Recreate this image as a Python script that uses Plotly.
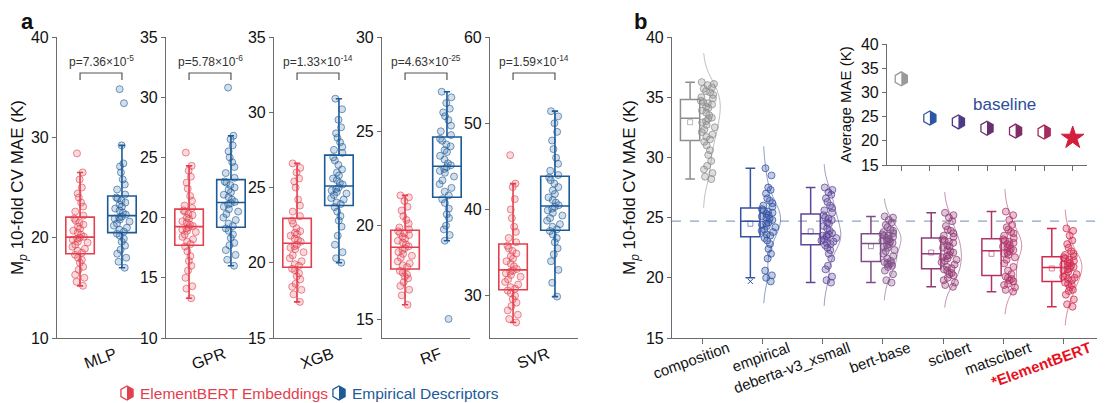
import numpy as np
import plotly.graph_objects as go

W, H = 1110, 403
OFF = 8  # page body margin offset


def fx(px):
    return (px - OFF) / W


def fy(py):
    return 1 - (py - OFF) / H


# ---------------- data: panel a ----------------
models = ["MLP", "GPR", "XGB", "RF", "SVR"]
p_labels = ["p=7.36×10<sup>-5</sup>", "p=5.78×10<sup>-6</sup>", "p=1.33×10<sup>-14</sup>",
            "p=4.63×10<sup>-25</sup>", "p=1.59×10<sup>-14</sup>"]

mlp_elementbert = [15.2, 15.6, 16.0, 16.3, 16.8, 17.1, 17.5, 17.8, 18.0, 18.3,
                   18.5, 18.7, 18.9, 19.1, 19.3, 19.5, 19.6, 19.8, 19.9, 20.0,
                   20.1, 20.3, 20.5, 20.7, 20.9, 21.1, 21.3, 21.5, 21.7, 21.9,
                   22.2, 22.6, 23.1, 23.5, 24.0, 24.4, 25.0, 25.8, 26.5, 28.4]
mlp_empirical = [17.0, 17.6, 18.0, 18.4, 18.8, 19.2, 19.6, 19.9, 20.2, 20.4,
                 20.6, 20.8, 21.0, 21.2, 21.4, 21.6, 21.8, 21.9, 22.0, 22.1,
                 22.3, 22.5, 22.7, 22.9, 23.1, 23.3, 23.5, 23.7, 23.9, 24.0,
                 24.3, 24.8, 25.3, 25.8, 26.5, 27.1, 27.4, 29.2, 33.4, 34.8]
gpr_elementbert = [13.3, 14.1, 14.3, 15.0, 15.6, 16.0, 16.4, 16.8, 17.2, 17.6,
                   17.8, 18.0, 18.2, 18.4, 18.6, 18.8, 18.9, 19.0, 19.1, 19.2,
                   19.3, 19.4, 19.6, 19.7, 19.9, 20.0, 20.2, 20.3, 20.5, 20.6,
                   20.8, 21.0, 21.4, 21.8, 22.4, 22.9, 23.4, 23.9, 24.3, 25.4]
gpr_empirical = [16.0, 16.5, 16.9, 17.3, 17.7, 17.9, 18.3, 18.6, 18.9, 19.1,
                 19.3, 19.5, 19.8, 20.0, 20.3, 20.5, 20.7, 20.9, 21.1, 21.2,
                 21.3, 21.5, 21.7, 21.9, 22.1, 22.3, 22.5, 22.7, 22.9, 23.0,
                 23.3, 23.7, 24.2, 24.6, 25.0, 25.5, 26.0, 26.5, 26.8, 30.8]
xgb_elementbert = [17.4, 17.9, 18.2, 18.4, 18.6, 18.9, 19.1, 19.3, 19.5, 19.6,
                   19.8, 19.9, 20.1, 20.3, 20.5, 20.7, 20.9, 21.0, 21.1, 21.2,
                   21.4, 21.5, 21.6, 21.8, 21.9, 22.0, 22.1, 22.3, 22.6, 22.8,
                   23.1, 23.4, 23.8, 24.2, 25.0, 25.4, 25.6, 26.0, 26.3, 26.6]
xgb_empirical = [20.0, 20.3, 20.7, 21.2, 21.8, 22.4, 22.8, 23.1, 23.4, 23.7,
                 23.9, 24.0, 24.2, 24.3, 24.5, 24.6, 24.7, 24.8, 24.9, 25.0,
                 25.2, 25.3, 25.5, 25.6, 25.8, 26.0, 26.2, 26.5, 26.8, 27.0,
                 27.3, 27.5, 27.7, 28.0, 28.3, 28.6, 29.0, 29.5, 30.2, 30.9]
rf_elementbert = [15.8, 16.3, 16.6, 16.8, 17.0, 17.2, 17.3, 17.4, 17.5, 17.6,
                  17.8, 17.9, 18.0, 18.1, 18.3, 18.4, 18.5, 18.6, 18.7, 18.8,
                  18.9, 19.0, 19.1, 19.2, 19.3, 19.4, 19.5, 19.6, 19.6, 19.7,
                  19.8, 19.9, 20.1, 20.3, 20.5, 20.8, 21.0, 21.3, 21.5, 21.6]
rf_empirical = [15.05, 19.2, 19.5, 19.8, 20.0, 20.4, 20.6, 20.9, 21.2, 21.4,
                21.6, 21.8, 22.0, 22.2, 22.4, 22.6, 22.8, 22.9, 23.0, 23.1,
                23.2, 23.3, 23.5, 23.7, 23.9, 24.0, 24.2, 24.3, 24.5, 24.6,
                24.8, 25.0, 25.3, 25.6, 25.8, 26.0, 26.2, 26.5, 26.8, 27.1]
svr_elementbert = [26.9, 27.3, 27.8, 28.3, 28.8, 29.2, 29.6, 30.0, 30.3, 30.6,
                   30.8, 31.0, 31.3, 31.6, 31.9, 32.2, 32.4, 32.6, 32.8, 32.9,
                   33.1, 33.4, 33.7, 34.0, 34.3, 34.6, 34.9, 35.2, 35.5, 35.8,
                   36.2, 36.7, 37.4, 38.0, 39.0, 40.0, 41.2, 42.6, 43.0, 46.3]
svr_empirical = [29.9, 31.5, 33.0, 34.0, 34.8, 35.5, 36.2, 36.7, 37.1, 37.5,
                 37.7, 38.0, 38.3, 38.7, 39.0, 39.3, 39.6, 39.9, 40.1, 40.3,
                 40.5, 40.8, 41.1, 41.4, 41.8, 42.2, 42.6, 43.0, 43.4, 43.7,
                 44.0, 44.5, 45.3, 46.0, 47.0, 48.0, 49.0, 50.0, 50.8, 51.4]

a_elementbert = [mlp_elementbert, gpr_elementbert, xgb_elementbert, rf_elementbert, svr_elementbert]
a_empirical = [mlp_empirical, gpr_empirical, xgb_empirical, rf_empirical, svr_empirical]
a_ranges = [[10, 40], [10, 35], [15, 35], [14.04, 30], [25.1, 60]]
a_ticks = [[10, 20, 30, 40], [10, 15, 20, 25, 30, 35], [15, 20, 25, 30, 35], [15, 20, 25, 30], [30, 40, 50, 60]]

# ---------------- data: panel b ----------------
methods = ["composition", "empirical", "deberta-v3_xsmall", "bert-base", "scibert", "matscibert", "*ElementBERT"]
composition = [28.2, 28.4, 28.7, 29.0, 29.3, 29.7, 30.2, 30.6, 31.0, 31.3,
               31.5, 31.7, 31.9, 32.1, 32.3, 32.5, 32.7, 32.9, 33.0, 33.2,
               33.3, 33.5, 33.7, 33.9, 34.1, 34.2, 34.4, 34.5, 34.6, 34.7,
               34.9, 35.0, 35.2, 35.4, 35.5, 35.7, 35.8, 36.0, 36.1, 36.25]
empirical = [19.7, 20.0, 20.2, 20.6, 21.6, 22.0, 22.4, 22.8, 23.1, 23.3,
             23.5, 23.6, 23.8, 23.9, 24.0, 24.2, 24.3, 24.4, 24.5, 24.6,
             24.8, 24.9, 25.0, 25.1, 25.2, 25.3, 25.4, 25.5, 25.6, 25.7,
             25.9, 26.0, 26.2, 26.4, 26.6, 27.0, 27.3, 27.5, 28.5, 29.1]
deberta = [19.6, 19.8, 20.1, 20.7, 21.0, 21.6, 22.0, 22.3, 22.5, 22.7,
           22.8, 22.9, 23.0, 23.1, 23.2, 23.3, 23.4, 23.5, 23.5, 23.6,
           23.7, 23.9, 24.1, 24.3, 24.5, 24.6, 24.8, 24.9, 25.0, 25.2,
           25.4, 25.6, 25.8, 26.0, 26.3, 26.6, 26.9, 27.1, 27.3, 27.5]
bert_base = [19.6, 19.8, 20.3, 20.6, 20.9, 21.0, 21.1, 21.2, 21.2, 21.3,
             21.4, 21.6, 21.8, 22.0, 22.2, 22.3, 22.5, 22.6, 22.7, 22.8,
             22.9, 23.0, 23.1, 23.1, 23.2, 23.3, 23.4, 23.5, 23.5, 23.6,
             23.7, 23.8, 23.9, 24.0, 24.2, 24.4, 24.6, 24.8, 25.0, 25.1]
scibert = [19.25, 19.4, 19.6, 19.8, 20.0, 20.2, 20.3, 20.4, 20.6, 20.7,
           20.8, 20.9, 21.1, 21.3, 21.4, 21.5, 21.6, 21.7, 21.8, 21.9,
           22.1, 22.2, 22.3, 22.5, 22.6, 22.7, 22.9, 23.0, 23.1, 23.2,
           23.4, 23.5, 23.7, 23.9, 24.0, 24.3, 24.7, 25.0, 25.2, 25.4]
matscibert = [18.85, 19.0, 19.2, 19.4, 19.5, 19.7, 19.8, 19.9, 20.0, 20.1,
              20.3, 20.6, 20.9, 21.2, 21.5, 21.7, 21.9, 22.0, 22.1, 22.2,
              22.3, 22.4, 22.5, 22.6, 22.7, 22.8, 22.9, 23.0, 23.1, 23.2,
              23.3, 23.5, 23.7, 23.8, 24.0, 24.2, 24.4, 24.8, 25.2, 25.5]
elementbert = [17.6, 17.8, 18.2, 18.6, 18.9, 19.0, 19.2, 19.4, 19.5, 19.6,
               19.8, 19.9, 20.0, 20.1, 20.2, 20.3, 20.5, 20.6, 20.7, 20.8,
               20.9, 21.0, 21.0, 21.1, 21.2, 21.3, 21.4, 21.5, 21.6, 21.7,
               21.8, 21.9, 22.0, 22.2, 22.5, 22.8, 23.1, 23.5, 23.9, 24.1]
b_data = [composition, empirical, deberta, bert_base, scibert, matscibert, elementbert]

avg_mae = [32.8, 24.7, 23.9, 22.6, 22.0, 21.8, 20.6]
baseline = 24.7

# ---------------- styles ----------------
RED = "#E3404E"
BLUE = "#1D5A98"
AX = "#6b6b6b"
b_colors = ["#8E8E8E", "#3352A2", "#5E4597", "#7E4C86", "#913A74", "#B0346A", "#D12B51"]
b_rgb = [(142, 142, 142), (51, 82, 162), (94, 69, 151), (126, 76, 134), (145, 58, 116), (176, 52, 106), (209, 43, 81)]
inset_colors = ["#9A9A9A", "#2D55A5", "#4F3A86", "#6A2F6E", "#822C68", "#A82B5E", "#D41E3C"]
FONT = "Arial, Liberation Sans, sans-serif"

a_xdom = [(57, 145), (166, 254), (274, 362), (382, 470), (490, 578)]
Y_TOP, Y_BOT = 37, 338


def xname(k):
    return "xaxis" if k == 1 else f"xaxis{k}"


def yname(k):
    return "yaxis" if k == 1 else f"yaxis{k}"


def xref(k):
    return "x" if k == 1 else f"x{k}"


def yref(k):
    return "y" if k == 1 else f"y{k}"


fig = go.Figure()
layout = dict(width=W, height=H, margin=dict(l=0, r=0, t=0, b=0, autoexpand=False),
              paper_bgcolor="white", plot_bgcolor="white", showlegend=False,
              font=dict(family=FONT, color="#1a1a1a"), boxmode="overlay", violinmode="overlay")
shapes = []
annotations = []

# ---------------- panel a ----------------
for k in range(5):
    n = k + 1
    for pos, vals, col, rgb in [(0, a_elementbert[k], RED, (227, 64, 78)), (1, a_empirical[k], BLUE, (29, 90, 152))]:
        fig.add_trace(go.Box(
            y=vals, x=[pos] * len(vals), xaxis=xref(n), yaxis=yref(n),
            width=0.68, boxpoints="all", jitter=0.6, pointpos=0, whiskerwidth=0.22,
            line=dict(color=col, width=1.6), fillcolor="rgba(255,255,255,0)",
            marker=dict(size=7, color="rgba(%d,%d,%d,0.2)" % rgb,
                        line=dict(color="rgba(%d,%d,%d,0.6)" % rgb, width=1)),
            hoverinfo="y"))
    x0, x1 = a_xdom[k]
    layout[xname(n)] = dict(domain=[fx(x0), fx(x1)], range=[-0.55, 1.55], anchor=yref(n), automargin=False,
                            showline=True, linecolor=AX, linewidth=1.2, showgrid=False, zeroline=False,
                            tickvals=[0.5], ticktext=[models[k]], ticks="", tickangle=-20, ticklabelshift=14,
                            tickfont=dict(size=16, color="#111"))
    ya = dict(domain=[fy(Y_BOT), fy(Y_TOP)], range=a_ranges[k], anchor=xref(n), automargin=False,
              showline=True, linecolor=AX, linewidth=1.2, ticks="outside", ticklen=4, tickcolor=AX,
              tickvals=a_ticks[k], showgrid=False, zeroline=False, tickfont=dict(size=16, color="#111"))
    if k == 0:
        ya["title"] = dict(text="M<sub><i>p</i></sub> 10-fold CV MAE (K)", font=dict(size=17, color="#111"),
                           standoff=5)
    layout[yname(n)] = ya
    # significance bracket
    shapes.append(dict(type="path", xref=xref(n), yref="paper",
                       path=f"M 0,{fy(80)} L 0,{fy(73)} L 1,{fy(73)} L 1,{fy(80)}",
                       line=dict(color="#555", width=1.2)))
    annotations.append(dict(x=0.5, xref=xref(n), y=fy(71), yref="paper", xanchor="center", yanchor="bottom",
                            text=p_labels[k], showarrow=False, font=dict(size=12, color="#333")))

# ---------------- panel b ----------------
BOX_OFF = -0.2
for i, vals in enumerate(b_data):
    r, g, b = b_rgb[i]
    fig.add_trace(go.Box(
        y=vals, x=[i + BOX_OFF] * len(vals), xaxis="x6", yaxis="y6",
        width=0.32, boxpoints="all", jitter=0.85, pointpos=1.9, whiskerwidth=0.5,
        line=dict(color=b_colors[i], width=1.5), fillcolor="rgba(255,255,255,0)",
        marker=dict(size=7, color="rgba(%d,%d,%d,0.3)" % (r, g, b),
                    line=dict(color="rgba(%d,%d,%d,0.75)" % (r, g, b), width=1)),
        hoverinfo="y"))
    fig.add_trace(go.Violin(
        y=vals, x=[i + 0.02] * len(vals), xaxis="x6", yaxis="y6", side="positive",
        width=0.56, points=False, line=dict(color="rgba(%d,%d,%d,0.7)" % (r, g, b), width=0.8),
        fillcolor="rgba(0,0,0,0)", spanmode="soft", scalemode="width", hoverinfo="skip"))
    fig.add_trace(go.Scatter(
        x=[i + BOX_OFF], y=[float(np.mean(vals))], xaxis="x6", yaxis="y6", mode="markers",
        marker=dict(symbol="square-open", size=5, color="rgba(%d,%d,%d,0.6)" % (r, g, b), line=dict(width=1)),
        hoverinfo="y"))
    # outliers beyond 1.5 IQR shown as small crosses at the box centre
    q1, q3 = np.percentile(vals, [25, 75])
    lo, hi = q1 - 1.5 * (q3 - q1), q3 + 1.5 * (q3 - q1)
    outl = [v for v in vals if v < lo or v > hi]
    if outl:
        fig.add_trace(go.Scatter(
            x=[i + BOX_OFF] * len(outl), y=outl, xaxis="x6", yaxis="y6", mode="markers",
            marker=dict(symbol="x-thin-open", size=5, color=b_colors[i],
                        line=dict(color=b_colors[i], width=1)),
            hoverinfo="y"))

tick_text = methods[:-1] + ["<b><span style='color:#E8101E'>" + methods[-1] + "</span></b>"]
layout["xaxis6"] = dict(domain=[fx(672), fx(1097)], range=[-0.5, 6.55], anchor="y6", automargin=False,
                        showline=True, linecolor=AX, linewidth=1.2, showgrid=False, zeroline=False,
                        tickvals=list(range(7)), ticktext=tick_text, ticks="outside", ticklen=5, tickcolor=AX,
                        tickangle=-20, ticklabelshift=26, ticklabelstandoff=-10,
                        tickfont=dict(size=15, color="#111"))
layout["yaxis6"] = dict(domain=[fy(Y_BOT), fy(Y_TOP)], range=[15, 40], anchor="x6", automargin=False,
                        showline=True, linecolor=AX, linewidth=1.2, ticks="outside", ticklen=4, tickcolor=AX,
                        tickvals=[15, 20, 25, 30, 35, 40], showgrid=False, zeroline=False,
                        tickfont=dict(size=16, color="#111"),
                        title=dict(text="M<sub><i>p</i></sub> 10-fold CV MAE (K)", font=dict(size=17, color="#111"),
                                   standoff=5))
shapes.append(dict(type="line", xref="x6 domain", yref="y6", x0=0, x1=1, y0=baseline, y1=baseline,
                   line=dict(color="#8FA2C6", width=1.3, dash="dash"), layer="below"))

# ---------------- inset ----------------
layout["xaxis7"] = dict(domain=[fx(887), fx(1087)], range=[-0.5, 6.5], anchor="y7", automargin=False,
                        showline=True, linecolor=AX, linewidth=1.2, showgrid=False, zeroline=False,
                        tickvals=list(range(7)), showticklabels=False, ticks="outside", ticklen=5, tickcolor=AX)
layout["yaxis7"] = dict(domain=[fy(165), fy(44)], range=[15, 40], anchor="x7", automargin=False,
                        showline=True, linecolor=AX, linewidth=1.2, ticks="outside", ticklen=4, tickcolor=AX,
                        tickvals=[15, 20, 25, 30, 35, 40], showgrid=False, zeroline=False,
                        tickfont=dict(size=16, color="#111"),
                        title=dict(text="Average MAE (K)", font=dict(size=15, color="#111"), standoff=5))
shapes.append(dict(type="line", xref="x7 domain", yref="y7", x0=0, x1=1, y0=baseline, y1=baseline,
                   line=dict(color="#2E4D9A", width=1.5, dash="dash"), layer="below"))
annotations.append(dict(x=3.6, xref="x7", y=27.4, yref="y7", xanchor="center", yanchor="middle",
                        text="baseline", showarrow=False, font=dict(size=17, color="#2E4D9A")))

hex_x = list(range(6))
fig.add_trace(go.Scatter(
    x=hex_x, y=avg_mae[:6], xaxis="x7", yaxis="y7", mode="markers",
    marker=dict(symbol="hexagon", size=14, color="white",
                line=dict(color=inset_colors[:6], width=1.3)), hoverinfo="y"))
fig.add_trace(go.Scatter(
    x=[6], y=[avg_mae[6]], xaxis="x7", yaxis="y7", mode="markers",
    marker=dict(symbol="star", size=17, color=inset_colors[6], line=dict(color=inset_colors[6], width=1)),
    hoverinfo="y"))
HALF = "M 0,7 L 6.06,3.5 L 6.06,-3.5 L 0,-7 Z"
FULL = "M 0,7 L 6.06,3.5 L 6.06,-3.5 L 0,-7 L -6.06,-3.5 L -6.06,3.5 Z"
for i in range(6):
    shapes.append(dict(type="path", xref="x7", yref="y7", xsizemode="pixel", ysizemode="pixel",
                       xanchor=i, yanchor=avg_mae[i], path=HALF, fillcolor=inset_colors[i],
                       line=dict(width=0), layer="above"))

# ---------------- legend (panel a) ----------------
legend_items = [("ElementBERT Embeddings", RED, 127), ("Empirical Descriptors", BLUE, 339)]
for label, col, px in legend_items:
    shapes.append(dict(type="path", xref="paper", yref="paper", xsizemode="pixel", ysizemode="pixel",
                       xanchor=fx(px), yanchor=fy(393), path=FULL, fillcolor="white",
                       line=dict(color=col, width=1.3)))
    shapes.append(dict(type="path", xref="paper", yref="paper", xsizemode="pixel", ysizemode="pixel",
                       xanchor=fx(px), yanchor=fy(393), path=HALF, fillcolor=col, line=dict(width=0)))
    annotations.append(dict(x=fx(px + 11), y=fy(393), xref="paper", yref="paper", xanchor="left",
                            yanchor="middle", text=label, showarrow=False, font=dict(size=15.5, color=col)))

# panel letters
annotations.append(dict(x=fx(27), y=fy(22), xref="paper", yref="paper", xanchor="center", yanchor="middle",
                        text="<b>a</b>", showarrow=False, font=dict(size=22, color="#111")))
annotations.append(dict(x=fx(641), y=fy(22), xref="paper", yref="paper", xanchor="center", yanchor="middle",
                        text="<b>b</b>", showarrow=False, font=dict(size=22, color="#111")))

layout["shapes"] = shapes
layout["annotations"] = annotations
fig.update_layout(**layout)
fig.write_html("out.html")
